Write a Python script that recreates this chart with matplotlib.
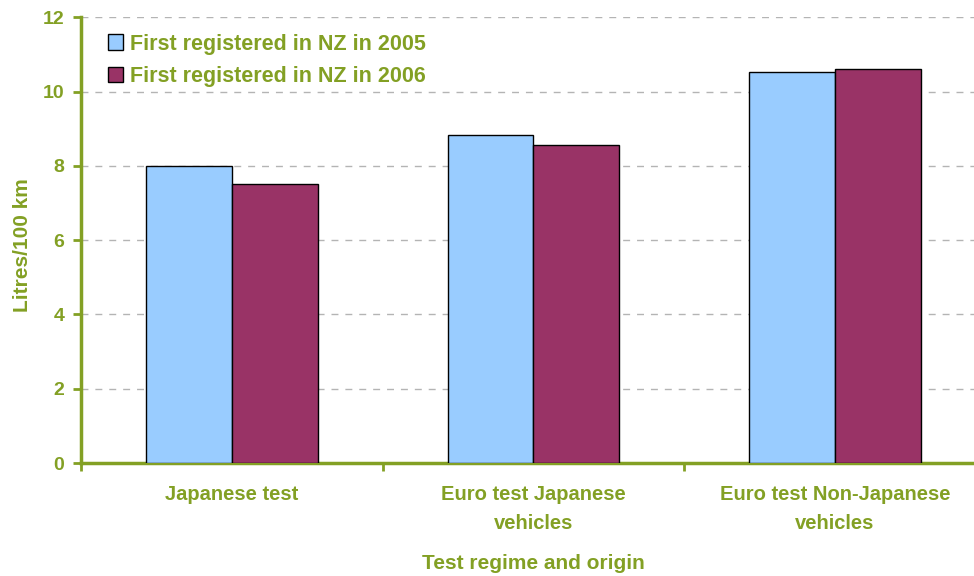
import numpy as np
import matplotlib.pyplot as plt
from matplotlib.ticker import FixedLocator

plt.rcParams['font.family'] = ['Liberation Sans', 'DejaVu Sans']
plt.rcParams['font.weight'] = 'bold'

kategorie = ['Japanese test', 'Euro test Japanese\nvehicles', 'Euro test Non-Japanese\nvehicles']
serie = ['First registered in NZ in 2005', 'First registered in NZ in 2006']
wartosci_2005 = [8.0, 8.83, 10.53]
wartosci_2006 = [7.5, 8.56, 10.62]

zielony = '#83A024'
kolory = ['#99CCFF', '#993366']

rys = plt.figure(figsize=(9.74, 5.76), dpi=100)
os = rys.add_axes([0.0832, 0.196, 0.929, 0.774])

x = np.arange(len(kategorie))
szer = 0.284
os.bar(x - szer / 2, wartosci_2005, szer, color=kolory[0], edgecolor='black', linewidth=1, label=serie[0], zorder=3)
os.bar(x + szer / 2, wartosci_2006, szer, color=kolory[1], edgecolor='black', linewidth=1, label=serie[1], zorder=3)

os.set_xlim(-0.5, 2.5)
os.set_ylim(0, 12)
os.set_yticks(np.arange(0, 13, 2))
os.yaxis.grid(True, linestyle=(0, (5, 5)), color='#B4B4B4', linewidth=1)
os.set_axisbelow(True)

os.set_xticks(x)
os.set_xticklabels(kategorie, color=zielony, fontsize=14.5, fontweight='bold')
for t in os.get_xticklabels():
    t.set_linespacing(1.7)
os.xaxis.set_minor_locator(FixedLocator([-0.5, 0.5, 1.5, 2.5]))
os.tick_params(axis='x', which='major', length=0, pad=15.5)
os.tick_params(axis='x', which='minor', length=6, width=2, color=zielony)
os.tick_params(axis='y', length=6, width=2, color=zielony, labelcolor=zielony, labelsize=14, pad=6)
for t in os.get_yticklabels():
    t.set_fontweight('bold')

for bok in ['top', 'right']:
    os.spines[bok].set_visible(False)
for bok in ['left', 'bottom']:
    os.spines[bok].set_color(zielony)
    os.spines[bok].set_linewidth(2.5)

os.set_ylabel('Litres/100 km', color=zielony, fontsize=15, fontweight='bold')
os.yaxis.set_label_coords(-0.054, 0.49)
os.set_xlabel('Test regime and origin', color=zielony, fontsize=15, fontweight='bold', labelpad=15)

leg = os.legend(loc='upper left', bbox_to_anchor=(0.008, 1.007), frameon=False, fontsize=15.5,
                handlelength=0.7, handleheight=0.7, handletextpad=0.35, labelspacing=0.55)
for t in leg.get_texts():
    t.set_color(zielony)
    t.set_fontweight('bold')

plt.savefig('out.png', dpi=100)
